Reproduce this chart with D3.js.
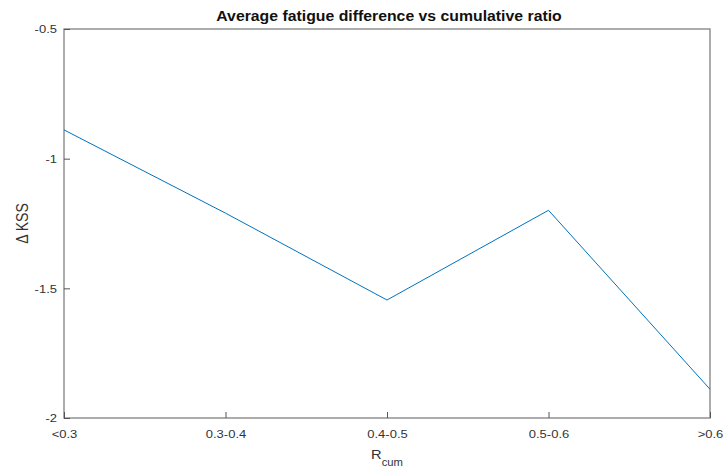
<!DOCTYPE html>
<html><head><meta charset="utf-8">
<script src="https://cdn.jsdelivr.net/npm/d3@7"></script>
<style>body{margin:0;background:#fff;} svg{display:block;}</style>
</head><body>
<script>
const categories = ["<0.3","0.3-0.4","0.4-0.5","0.5-0.6",">0.6"];
const values = [-0.889, -1.21, -1.545, -1.199, -1.889];
const yTicks = [-2, -1.5, -1, -0.5];
const yTickLabels = ["-2","-1.5","-1","-0.5"];

const W = 726, H = 470;
const m = {left: 64, right: 16, top: 29, bottom: 52};
const SX = 1.13; // horizontal stretch of the original figure's text
const svg = d3.select("body").append("svg").attr("width", W).attr("height", H);
const x = d3.scalePoint().domain(categories).range([m.left, W - m.right]);
const y = d3.scaleLinear().domain([-2, -0.5]).range([H - m.bottom, m.top]);
const axisColor = "#808080";
const font = "Arial, 'Liberation Sans', sans-serif";

// box
svg.append("rect").attr("x", m.left).attr("y", m.top)
  .attr("width", W - m.right - m.left).attr("height", H - m.bottom - m.top)
  .attr("fill", "none").attr("stroke", axisColor).attr("stroke-width", 1.3);

const xAxis = svg.append("g").attr("transform", `translate(0,${H - m.bottom})`)
  .call(d3.axisBottom(x).tickSizeInner(-6).tickSizeOuter(0));
xAxis.select(".domain").remove();
xAxis.selectAll("line").attr("stroke", "#555");
xAxis.selectAll("text").attr("y", 20).attr("dy", null)
  .attr("transform", `scale(${SX},1)`)
  .attr("font-family", font).attr("font-size", 11.5).attr("fill", "#333");

const yAxis = svg.append("g").attr("transform", `translate(${m.left},0)`)
  .call(d3.axisLeft(y).tickValues(yTicks).tickFormat((d,i) => yTickLabels[i]).tickSizeInner(-6).tickSizeOuter(0));
yAxis.select(".domain").remove();
yAxis.selectAll("line").attr("stroke", "#555");
yAxis.selectAll("text").attr("x", -7 / SX)
  .attr("transform", `scale(${SX},1)`)
  .attr("font-family", font).attr("font-size", 11.5).attr("fill", "#333");

// line
const line = d3.line().x((d,i) => x(categories[i])).y(d => y(d));
svg.append("path").datum(values).attr("d", line)
  .attr("fill", "none").attr("stroke", "#0072BD").attr("stroke-width", 1);

// title
svg.append("text").attr("transform", `translate(389,20.5) scale(${SX},1)`)
  .attr("text-anchor", "middle").attr("font-family", font).attr("font-weight", "bold")
  .attr("font-size", 14).attr("fill", "#111").text("Average fatigue difference vs cumulative ratio");

// y label
svg.append("text").attr("transform", `translate(28,${(m.top + H - m.bottom) / 2}) rotate(-90) scale(1,${SX})`)
  .attr("text-anchor", "middle").attr("font-family", font).attr("font-size", 14).attr("fill", "#333")
  .text("Δ KSS");

// x label
const xl = svg.append("text").attr("transform", `translate(387,459) scale(${SX},1)`)
  .attr("text-anchor", "middle").attr("font-family", font).attr("font-size", 13).attr("fill", "#333");
xl.append("tspan").text("R");
xl.append("tspan").attr("font-size", 10).attr("dy", 7).text("cum");
</script>
</body></html>
